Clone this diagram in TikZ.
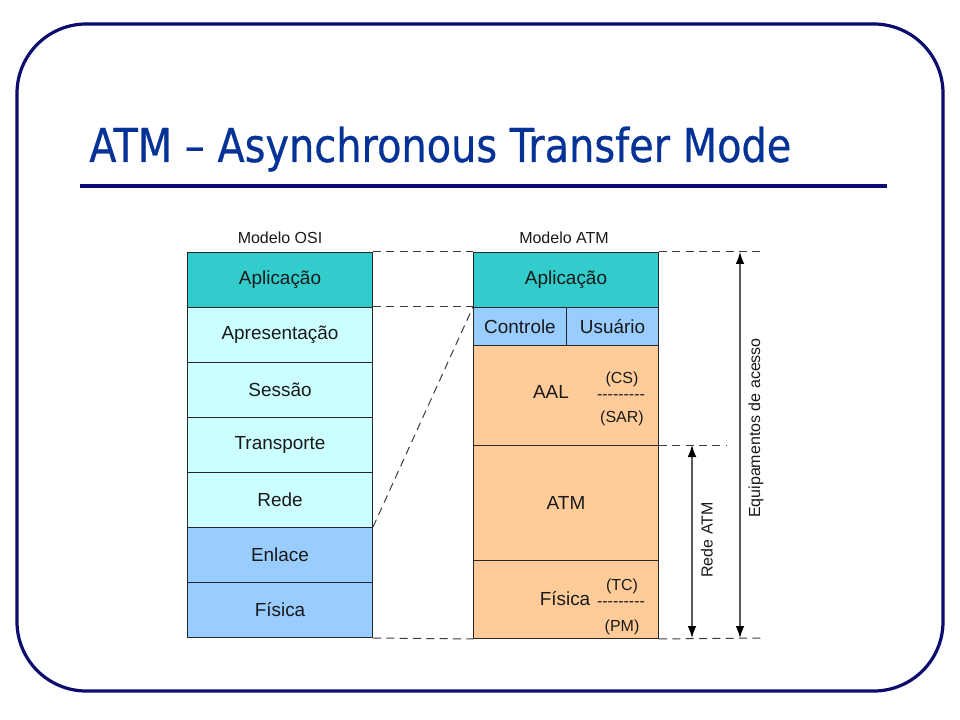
\documentclass[tikz,border=0pt]{standalone}
\usepackage{fontspec}
\usepackage{graphicx}
\setmainfont{Liberation Sans}
\newfontfamily\titlefont[FakeBold=0.6]{DejaVu Sans}
\usetikzlibrary{arrows.meta}
\definecolor{framecol}{RGB}{12,12,110}
\definecolor{titlecol}{RGB}{5,50,150}
\definecolor{rulecol}{RGB}{10,10,120}
\definecolor{tealc}{RGB}{51,204,204}
\definecolor{cyanc}{RGB}{204,255,255}
\definecolor{bluec}{RGB}{153,204,255}
\definecolor{peachc}{RGB}{255,204,153}
\definecolor{dashc}{RGB}{60,60,60}
\definecolor{arrc}{RGB}{90,90,90}
\begin{document}
\begin{tikzpicture}[x=0.75pt,y=-0.75pt,
  layer/.style={draw=black!85,line width=0.75pt,anchor=north west,inner sep=0pt,
    minimum width=138.75pt,font=\fontsize{14.2}{16}\selectfont,text=black!90},
  small/.style={font=\fontsize{12}{14}\selectfont,text=black!90,inner sep=0pt},
  guide/.style={draw=dashc,line width=0.75pt,dash pattern=on 6pt off 4pt},
  dim/.style={draw=arrc,line width=0.9pt,{Latex[length=9pt,width=6.5pt,fill=black,color=black]}-{Latex[length=9pt,width=6.5pt,fill=black,color=black]}}]
\useasboundingbox (0,0) rectangle (960,720);
\fill[white] (0,0) rectangle (960,720);
% frame
\draw[framecol,line width=2.4pt,rounded corners=52pt] (17,24) rectangle (943,691);
% title
\node[anchor=base west,inner sep=0pt,text=titlecol] (title) at (89,162)
  {\resizebox{526.5pt}{\height}{\titlefont\fontsize{35}{40}\selectfont ATM – Asynchronous Transfer Mode}};
\draw[rulecol,line width=3pt] (80,186) -- (887,186);
% OSI column
\node[small] (osilbl) at (280,238) {Modelo OSI};
\node[layer,fill=tealc,minimum height=41.25pt] (o1) at (187,252) {Aplicação};
\node[layer,fill=cyanc,minimum height=41.25pt] (o2) at (187,307) {Apresentação};
\node[layer,fill=cyanc,minimum height=41.25pt] (o3) at (187,362) {Sessão};
\node[layer,fill=cyanc,minimum height=41.25pt] (o4) at (187,417) {Transporte};
\node[layer,fill=cyanc,minimum height=41.25pt] (o5) at (187,472) {Rede};
\node[layer,fill=bluec,minimum height=41.25pt] (o6) at (187,527) {Enlace};
\node[layer,fill=bluec,minimum height=41.25pt] (o7) at (187,582) {Física};
% ATM column
\node[small] (atmlbl) at (564,238) {Modelo ATM};
\node[layer,fill=tealc,minimum height=41.25pt] (a1) at (473,252) {Aplicação};
\node[layer,fill=bluec,minimum height=28.5pt,minimum width=69.75pt] (a2a) at (473,307) {Controle};
\node[layer,fill=bluec,minimum height=28.5pt,minimum width=69pt] (a2b) at (566,307) {Usuário};
\node[layer,fill=peachc,minimum height=75pt] (a3) at (473,345) {};
\node[layer,fill=peachc,minimum height=86.25pt] (a4) at (473,445) {ATM};
\node[layer,fill=peachc,minimum height=58.5pt] (a5) at (473,560) {};
% AAL text
\node[font=\fontsize{14.2}{16}\selectfont,text=black!90,inner sep=0pt] (aal) at (551,392) {AAL};
\node[small] (cs) at (622,379) {(CS)};
\node[small] (d1) at (621,397) {-{}-{}-{}-{}-{}-{}-{}-{}-};
\node[small] (sar) at (622,418) {(SAR)};
% Fisica text
\node[font=\fontsize{14.2}{16}\selectfont,text=black!90,inner sep=0pt] (fis) at (565,599) {Física};
\node[small] (tc) at (622,586) {(TC)};
\node[small] (d2) at (621,604) {-{}-{}-{}-{}-{}-{}-{}-{}-};
\node[small] (pm) at (622,627) {(PM)};
% guide lines
\coordinate (eqtop) at (763,252);
\coordinate (eqbot) at (765,638);
\coordinate (retop) at (726,445);
\draw[guide] (o1.north east) -- (a1.north west);
\draw[guide] (a1.north east) -- (eqtop);
\draw[guide] (o2.north east) -- (a2a.north west);
\draw[guide] (o6.north east) -- (a2a.north west);
\draw[guide] (o7.south east) -- (a5.south west);
\draw[guide] (a5.south east) -- (eqbot);
\draw[guide] (a4.north east) -- (retop);
% dimension arrows
\coordinate (e1) at (740,252);
\coordinate (e2) at (740,638);
\coordinate (r1) at (692,445);
\coordinate (r2) at (692,638);
\draw[dim] (e1) -- (e2);
\draw[dim] (r1) -- (r2);
\node[small,rotate=90] (eqlbl) at (756,428) {Equipamentos de acesso};
\node[small,rotate=90] (relbl) at (707,540) {Rede ATM};
\end{tikzpicture}
\end{document}
